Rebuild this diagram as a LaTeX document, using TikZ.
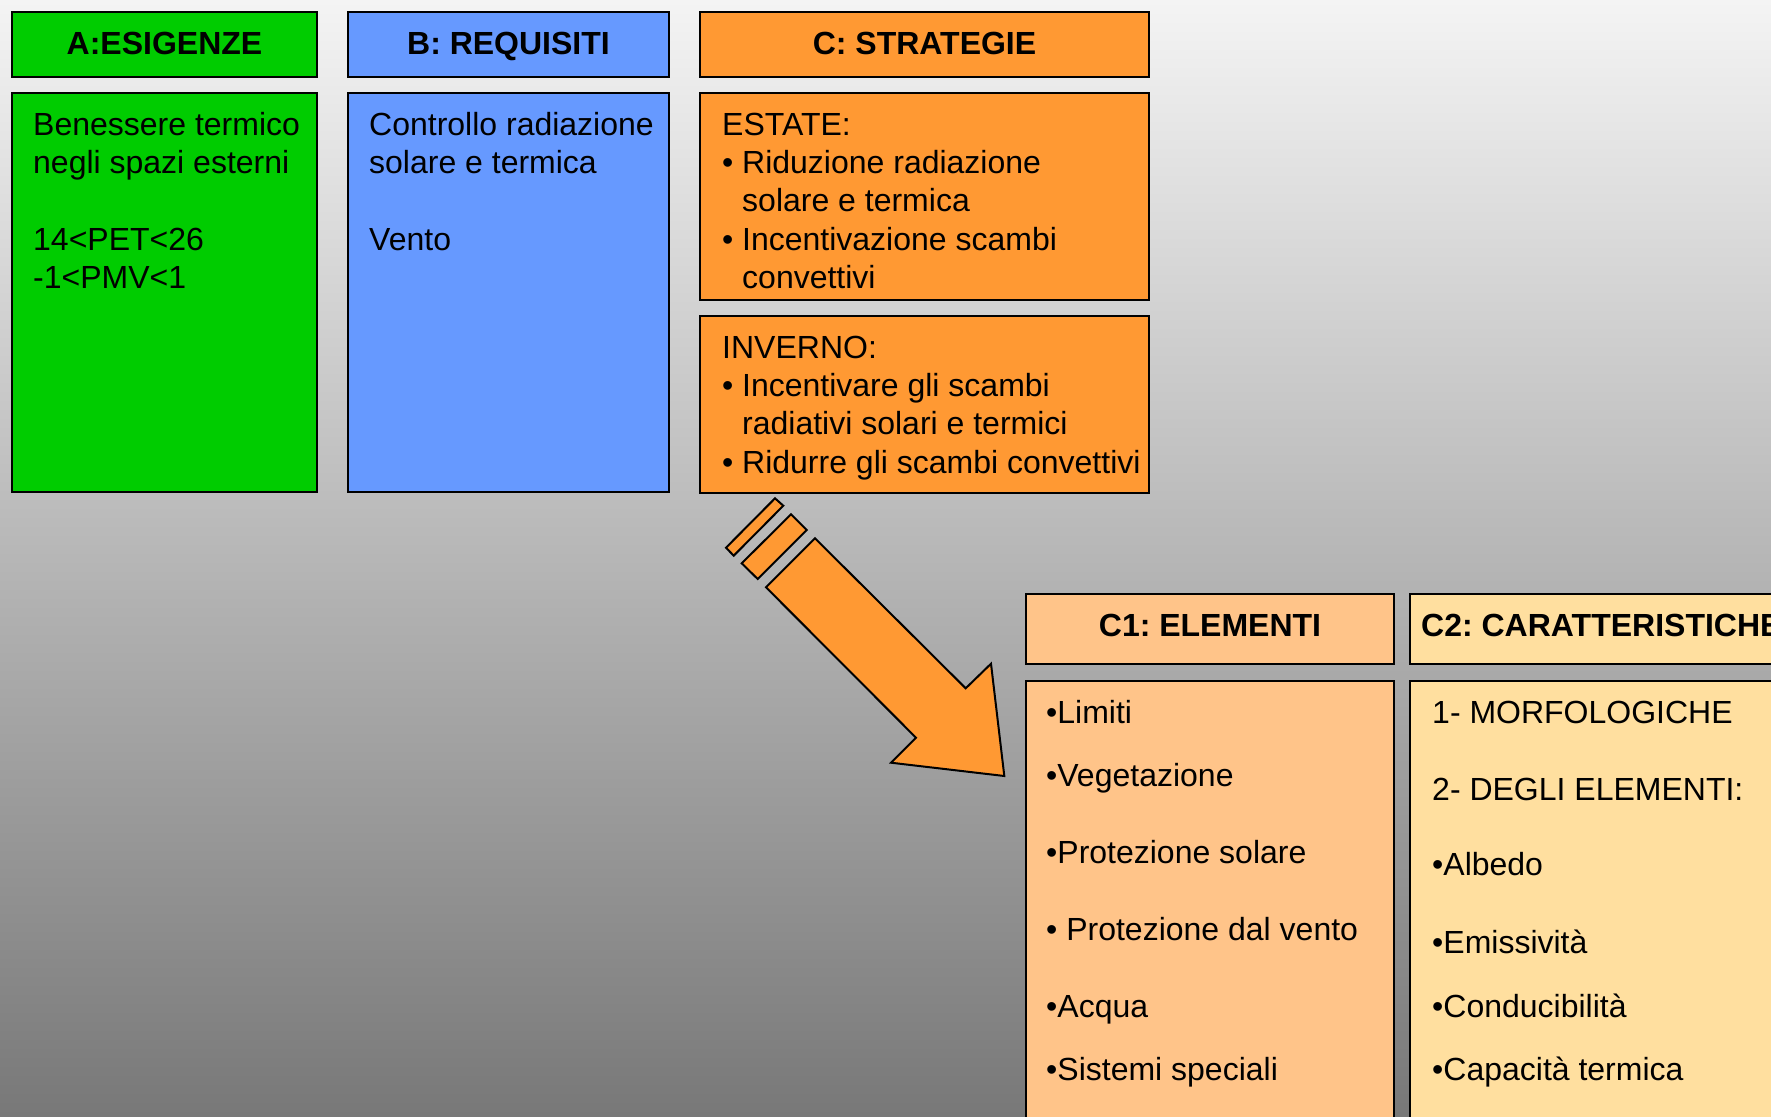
\documentclass[tikz,border=0pt]{standalone}
\usepackage{fontspec}
\setmainfont{Liberation Sans}
\frenchspacing
\definecolor{cgreen}{HTML}{00CC00}
\definecolor{cblue}{HTML}{6699FF}
\definecolor{corange}{HTML}{FF9933}
\definecolor{cpeach}{HTML}{FFC489}
\definecolor{ccream}{HTML}{FFDF9F}
\definecolor{bgtop}{HTML}{F4F4F4}
\definecolor{bgbot}{HTML}{787878}
\tikzset{
  box/.style={draw=black, line width=2pt, anchor=north west, outer sep=0pt, inner sep=0pt},
  hdr/.style={font=\fontsize{32}{38.4}\selectfont\bfseries, anchor=base, inner sep=0pt},
  body/.style={font=\fontsize{32}{38.4}\selectfont, anchor=north west, inner sep=0pt, align=left},
  item/.style={font=\fontsize{32}{38.4}\selectfont, anchor=base west, inner sep=0pt},
  blockarrow/.style={draw=black, line width=2pt, fill=corange, line join=miter},
}
\newcommand{\bul}{\makebox[20pt][l]{•}}
\newcommand{\ind}{\hspace*{20pt}}
\begin{document}
\frenchspacing
\begin{tikzpicture}[x=1pt,y=-1pt]
\useasboundingbox (0,0) rectangle (1771,1116);
\clip (0,0) rectangle (1771,1116);
\shade[top color=bgtop, bottom color=bgbot] (0,0) rectangle (1771,1116);

% A column
\node[box, fill=cgreen, minimum width=305pt, minimum height=65pt] (ha) at (12,12) {};
\node[hdr] (ta) at (164.5,54.5) {A:ESIGENZE};
\node[box, fill=cgreen, minimum width=305pt, minimum height=399pt] (ba) at (12,93) {};
\node[body] (xa) at (33,108) {Benessere termico\strut\\ negli spazi esterni\strut\\ \strut\\ 14<PET<26\strut\\ -1<PMV<1\strut};

% B column
\node[box, fill=cblue, minimum width=321pt, minimum height=65pt] (hb) at (348,12) {};
\node[hdr] (tb) at (508.5,54.5) {B: REQUISITI};
\node[box, fill=cblue, minimum width=321pt, minimum height=399pt] (bb) at (348,93) {};
\node[body] (xb) at (369,108) {Controllo radiazione\strut\\ solare e termica\strut\\ \strut\\ Vento\strut};

% C column
\node[box, fill=corange, minimum width=449pt, minimum height=65pt] (hc) at (700,12) {};
\node[hdr] (tc) at (924.5,54.5) {C: STRATEGIE};
\node[box, fill=corange, minimum width=449pt, minimum height=207pt] (be) at (700,93) {};
\node[body] (xe) at (722,108) {ESTATE:\strut\\ \bul Riduzione radiazione\strut\\ \ind solare e termica\strut\\ \bul Incentivazione scambi\strut\\ \ind convettivi\strut};
\node[box, fill=corange, minimum width=449pt, minimum height=177pt] (bi) at (700,316) {};
\node[body] (xi) at (722,331) {INVERNO:\strut\\ \bul Incentivare gli scambi\strut\\ \ind radiativi solari e termici\strut\\ \bul Ridurre gli scambi convettivi\strut};

% block arrow
\draw[blockarrow] (726,547.7) -- (775,498.3) -- (783.3,505.7) -- (733.7,555.7) -- cycle;
\draw[blockarrow] (741.7,563.3) -- (791,514.3) -- (806.7,530) -- (757.7,579) -- cycle;
\draw[blockarrow] (766,587.3) -- (815,538.3) -- (965.7,688.3) -- (991,663.7) -- (1004.3,776) -- (891,762.7) -- (916,737.7) -- cycle;

% C1
\node[box, fill=cpeach, minimum width=368pt, minimum height=70pt] (hc1) at (1026,594) {};
\node[hdr] (tc1) at (1210,636) {C1: ELEMENTI};
\node[box, fill=cpeach, minimum width=368pt, minimum height=460pt] (bc1) at (1026,681) {};
\node[item] (e1) at (1046,723.6) {•Limiti};
\node[item] (e2) at (1046,786.8) {•Vegetazione};
\node[item] (e3) at (1046,863.8) {•Protezione solare};
\node[item] (e4) at (1046,940.7) {• Protezione dal vento};
\node[item] (e5) at (1046,1017) {•Acqua};
\node[item] (e6) at (1046,1080.8) {•Sistemi speciali};

% C2
\node[box, fill=ccream, minimum width=400pt, minimum height=70pt] (hc2) at (1410,594) {};
\node[hdr, anchor=base west] (tc2) at (1421,636) {C2: CARATTERISTICHE};
\node[box, fill=ccream, minimum width=400pt, minimum height=460pt] (bc2) at (1410,681) {};
\node[item] (k1) at (1432,723.6) {1- MORFOLOGICHE};
\node[item] (k2) at (1432,800.5) {2- DEGLI ELEMENTI:};
\node[item] (k3) at (1432,875.7) {•Albedo};
\node[item] (k4) at (1432,953.3) {•Emissività};
\node[item] (k5) at (1432,1017) {•Conducibilità};
\node[item] (k6) at (1432,1080.8) {•Capacità termica};
\end{tikzpicture}
\end{document}
